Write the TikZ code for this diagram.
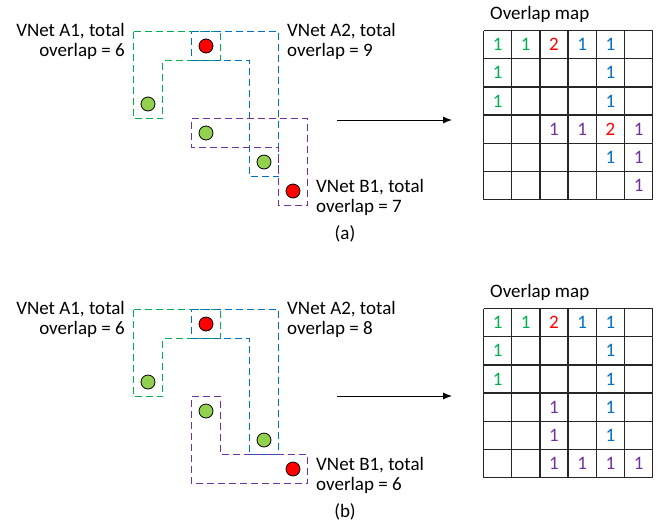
\documentclass[tikz,border=0pt]{standalone}
\usepackage{fontspec}
\setmainfont{Carlito}
\usepackage{tikz}
\usetikzlibrary{arrows.meta, positioning, calc}

\definecolor{NetGreen}{RGB}{0,176,80}
\definecolor{NetBlue}{RGB}{0,112,192}
\definecolor{NetPurple}{RGB}{112,48,160}
\definecolor{PinGreen}{RGB}{146,208,80}
\definecolor{PinRed}{RGB}{255,0,0}

\tikzset{
	txt/.style={inner sep=0pt, font=\fontsize{19}{20}\selectfont},
	netbox/.style={dash pattern=on 7pt off 4pt, line width=1pt},
	pin/.style={circle, draw=black, line width=0.8pt, minimum size=14pt, inner sep=0pt},
	gridline/.style={line width=1.4pt, black!85},
	cellnum/.style={inner sep=0pt, font=\fontsize{19}{20}\selectfont},
	maparrow/.style={-{Latex[length=9pt, width=7pt]}, line width=0.9pt}
}

\begin{document}
\begin{tikzpicture}[x=1pt, y=-1pt]
	\useasboundingbox (0,0) rectangle (658,523);

	% ---- (a) ----
	\begin{scope}
		\begin{scope}[shift={(133.5,31.5)}, x=29pt, y=-29pt]
			\draw[netbox, NetGreen] (0,0) -- (3,0) -- (3,1) -- (1,1) -- (1,3) -- (0,3) -- cycle;
			\draw[netbox, NetBlue] (2,0) -- (5,0) -- (5,5) -- (4,5) -- (4,1) -- (2,1) -- cycle;
			\draw[netbox, NetPurple] (2,3) -- (6,3) -- (6,6) -- (5,6) -- (5,4) -- (2,4) -- cycle;
			\node[pin, fill=PinRed] (pinA-s) at (2.5,0.5) {};
			\node[pin, fill=PinGreen] (pinA-a1) at (0.5,2.5) {};
			\node[pin, fill=PinGreen] (pinA-b1) at (2.5,3.5) {};
			\node[pin, fill=PinGreen] (pinA-a2) at (4.5,4.5) {};
			\node[pin, fill=PinRed] (pinA-t) at (5.5,5.5) {};
		\end{scope}
		\node[txt, anchor=north east, align=right] (lblA-a1) at (125,23) {VNet A1, total\\overlap = 6};
		\node[txt, anchor=north west, align=left] (lblA-a2) at (287,23) {VNet A2, total\\overlap = 9};
		\node[txt, anchor=north west, align=left] (lblA-b1) at (316,179) {VNet B1, total\\overlap = 7};
		\node[txt] (capA) at (345,233.5) {(a)};

		\coordinate (arrA-from) at (337,120);
		\coordinate (arrA-to) at (452,120);
		\draw[maparrow] (arrA-from) -- (arrA-to);

		\node[txt, anchor=base west] (titleA) at (490,19) {Overlap map};
		\begin{scope}[shift={(483.5,30.5)}, x=28.2pt, y=-28.2pt]
			\foreach \i in {0,...,6} {
				\draw[gridline] (\i,0) -- (\i,6);
				\draw[gridline] (0,\i) -- (6,\i);
			}
			\foreach \c/\r/\v/\col in {0/0/1/NetGreen, 1/0/1/NetGreen, 2/0/2/PinRed, 3/0/1/NetBlue, 4/0/1/NetBlue,
				0/1/1/NetGreen, 4/1/1/NetBlue, 0/2/1/NetGreen, 4/2/1/NetBlue,
				2/3/1/NetPurple, 3/3/1/NetPurple, 4/3/2/PinRed, 5/3/1/NetPurple,
				4/4/1/NetBlue, 5/4/1/NetPurple, 5/5/1/NetPurple}
				\node[cellnum, text=\col] (mapA-\r-\c) at (\c+0.5,\r+0.5) {\v};
		\end{scope}
	\end{scope}

	% ---- (b) ----
	\begin{scope}[shift={(0,278)}]
		\begin{scope}[shift={(133.5,31.5)}, x=29pt, y=-29pt]
			\draw[netbox, NetGreen] (0,0) -- (3,0) -- (3,1) -- (1,1) -- (1,3) -- (0,3) -- cycle;
			\draw[netbox, NetBlue] (2,0) -- (5,0) -- (5,5) -- (4,5) -- (4,1) -- (2,1) -- cycle;
			\draw[netbox, NetPurple] (2,3) -- (3,3) -- (3,5) -- (6,5) -- (6,6) -- (2,6) -- cycle;
			\node[pin, fill=PinRed] (pinB-s) at (2.5,0.5) {};
			\node[pin, fill=PinGreen] (pinB-a1) at (0.5,2.5) {};
			\node[pin, fill=PinGreen] (pinB-b1) at (2.5,3.5) {};
			\node[pin, fill=PinGreen] (pinB-a2) at (4.5,4.5) {};
			\node[pin, fill=PinRed] (pinB-t) at (5.5,5.5) {};
		\end{scope}
		\node[txt, anchor=north east, align=right] (lblB-a1) at (125,23) {VNet A1, total\\overlap = 6};
		\node[txt, anchor=north west, align=left] (lblB-a2) at (287,23) {VNet A2, total\\overlap = 8};
		\node[txt, anchor=north west, align=left] (lblB-b1) at (316,179) {VNet B1, total\\overlap = 6};
		\node[txt] (capB) at (345,233.5) {(b)};

		\coordinate (arrB-from) at (337,118);
		\coordinate (arrB-to) at (452,118);
		\draw[maparrow] (arrB-from) -- (arrB-to);

		\node[txt, anchor=base west] (titleB) at (490,19) {Overlap map};
		\begin{scope}[shift={(483.5,30.5)}, x=28.2pt, y=-28.2pt]
			\foreach \i in {0,...,6} {
				\draw[gridline] (\i,0) -- (\i,6);
				\draw[gridline] (0,\i) -- (6,\i);
			}
			\foreach \c/\r/\v/\col in {0/0/1/NetGreen, 1/0/1/NetGreen, 2/0/2/PinRed, 3/0/1/NetBlue, 4/0/1/NetBlue,
				0/1/1/NetGreen, 4/1/1/NetBlue, 0/2/1/NetGreen, 4/2/1/NetBlue,
				2/3/1/NetPurple, 4/3/1/NetBlue, 2/4/1/NetPurple, 4/4/1/NetBlue,
				2/5/1/NetPurple, 3/5/1/NetPurple, 4/5/1/NetPurple, 5/5/1/NetPurple}
				\node[cellnum, text=\col] (mapB-\r-\c) at (\c+0.5,\r+0.5) {\v};
		\end{scope}
	\end{scope}
\end{tikzpicture}
\end{document}
